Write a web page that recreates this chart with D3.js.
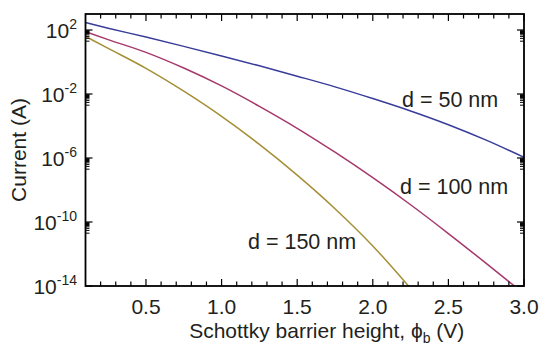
<!DOCTYPE html>
<html>
<head>
<meta charset="utf-8">
<script src="https://cdn.jsdelivr.net/npm/d3@7"></script>
<style>
  body { margin: 0; background: #fff; }
  text { font-family: "Liberation Sans", Arial, sans-serif; fill: #231f20; }
</style>
</head>
<body>
<div id="chart"></div>
<script>
// barrier height (V)
var phiB = [0.1, 0.25, 0.5, 0.75, 1.0, 1.25, 1.5, 1.75, 2.0, 2.25, 2.5, 2.75, 3.0];

// current (A), one list per thickness
var current50 = [2.9e2, 1.3e2, 3.6e1, 9.5e0, 2.4e0, 5.8e-1, 1.3e-1, 2.8e-2, 5.2e-3, 8.7e-4, 1.2e-4, 1.3e-5, 1.1e-6];
var current100 = [7.9e1, 2.5e1, 4.0e0, 4.2e-1, 3.2e-2, 1.7e-3, 7.2e-5, 2.3e-6, 5.9e-8, 1.2e-9, 1.9e-11, 2.6e-13, 3.3e-15];
var current150 = [4.0e1, 7.1e0, 4.0e-1, 1.5e-2, 4.0e-4, 7.1e-6, 8.5e-8, 6.8e-10, 3.2e-12, 7.1e-15, null, null, null];

var seriesNames = ["d = 50 nm", "d = 100 nm", "d = 150 nm"];
var seriesColors = ["#383d9a", "#a6386b", "#a48f35"];

var xMajor = [0.5, 1.0, 1.5, 2.0, 2.5, 3.0];
var xTickLabels = ["0.5", "1.0", "1.5", "2.0", "2.5", "3.0"];
var yMajorExp = [2, -2, -6, -10, -14];

var width = 541, height = 352;
var margin = {left: 85.5, right: 524, top: 14, bottom: 286};

var svg = d3.select("#chart")
  .append("svg")
  .attr("width", width)
  .attr("height", height);

var x = d3.scaleLinear()
  .domain([0.1, 3.0])
  .range([margin.left, margin.right]);

var y = d3.scaleLog()
  .domain([1e-14, 1e3])
  .range([margin.bottom, margin.top]);

svg.append("clipPath")
  .attr("id", "plotclip")
  .append("rect")
  .attr("x", margin.left)
  .attr("y", margin.top)
  .attr("width", margin.right - margin.left)
  .attr("height", margin.bottom - margin.top);

// curves
var allSeries = [current50, current100, current150];
var line = d3.line()
  .defined(function(d) { return d[1] != null; })
  .x(function(d) { return x(d[0]); })
  .y(function(d) { return y(d[1]); })
  .curve(d3.curveMonotoneX);

allSeries.forEach(function(vals, i) {
  var pts = phiB.map(function(p, j) { return [p, vals[j]]; });
  svg.append("path")
    .datum(pts)
    .attr("clip-path", "url(#plotclip)")
    .attr("fill", "none")
    .attr("stroke", seriesColors[i])
    .attr("stroke-width", 1.5)
    .attr("d", line);
});

// x ticks, inward on bottom and top
var xMinor = d3.range(2, 30).map(function(i) { return i / 10; })
  .filter(function(v) { return Math.round(v * 10) % 5 != 0; });

[[margin.bottom, -1], [margin.top, 1]].forEach(function(side) {
  var g = svg.append("g");
  g.selectAll("line.minor")
    .data(xMinor)
    .enter().append("line")
    .attr("x1", function(d) { return x(d); })
    .attr("x2", function(d) { return x(d); })
    .attr("y1", side[0])
    .attr("y2", side[0] + side[1] * 4.5)
    .attr("stroke", "#000").attr("stroke-width", 1.2);
  g.selectAll("line.major")
    .data(xMajor)
    .enter().append("line")
    .attr("x1", function(d) { return x(d); })
    .attr("x2", function(d) { return x(d); })
    .attr("y1", side[0])
    .attr("y2", side[0] + side[1] * 7)
    .attr("stroke", "#000").attr("stroke-width", 1.2);
});

// y ticks, inward on left and right, minor ticks in the decade below each major
var yMinor = [];
yMajorExp.forEach(function(e) {
  for (var k = 2; k <= 9; k++) yMinor.push(k * Math.pow(10, e - 1));
});
yMinor = yMinor.filter(function(v) { return v >= 1e-14; });

[[margin.left, 1], [margin.right, -1]].forEach(function(side) {
  var g = svg.append("g");
  g.selectAll("line.minor")
    .data(yMinor)
    .enter().append("line")
    .attr("x1", side[0])
    .attr("x2", side[0] + side[1] * 4)
    .attr("y1", function(d) { return y(d); })
    .attr("y2", function(d) { return y(d); })
    .attr("stroke", "#000").attr("stroke-width", 1);
  g.selectAll("line.major")
    .data(yMajorExp)
    .enter().append("line")
    .attr("x1", side[0])
    .attr("x2", side[0] + side[1] * 7)
    .attr("y1", function(d) { return y(Math.pow(10, d)); })
    .attr("y2", function(d) { return y(Math.pow(10, d)); })
    .attr("stroke", "#000").attr("stroke-width", 1.2);
});

// frame
svg.append("rect")
  .attr("x", margin.left)
  .attr("y", margin.top)
  .attr("width", margin.right - margin.left)
  .attr("height", margin.bottom - margin.top)
  .attr("fill", "none")
  .attr("stroke", "#000")
  .attr("stroke-width", 1.8);

// x tick labels
svg.selectAll("text.xlab")
  .data(xMajor)
  .enter().append("text")
  .attr("x", function(d) { return x(d); })
  .attr("y", 314)
  .attr("text-anchor", "middle")
  .style("font-size", "21px")
  .text(function(d, i) { return xTickLabels[i]; });

// y tick labels 10^n
var ylab = svg.selectAll("text.ylab")
  .data(yMajorExp)
  .enter().append("text")
  .attr("x", 77)
  .attr("y", function(d) { return y(Math.pow(10, d)) + 8; })
  .attr("text-anchor", "end")
  .style("font-size", "21px");
ylab.append("tspan").text("10");
ylab.append("tspan")
  .attr("dy", -9)
  .style("font-size", "14px")
  .text(function(d) { return d; });

// axis titles
svg.append("text")
  .attr("transform", "translate(26," + ((margin.top + margin.bottom) / 2) + ") rotate(-90)")
  .attr("text-anchor", "middle")
  .style("font-size", "21px")
  .text("Current (A)");

var xt = svg.append("text")
  .attr("x", (margin.left + margin.right) / 2 + 22)
  .attr("y", 338)
  .attr("text-anchor", "middle")
  .style("font-size", "21px");
xt.append("tspan").text("Schottky barrier height, ");
xt.append("tspan").text("\u03d5");
xt.append("tspan").attr("dy", 5).style("font-size", "14px").text("b");
xt.append("tspan").attr("dy", -5).text(" (V)");

// curve labels
var labelPos = [[402, 107], [400, 194], [248, 249]];
labelPos.forEach(function(p, i) {
  svg.append("text")
    .attr("x", p[0])
    .attr("y", p[1])
    .style("font-size", "21.5px")
    .text(seriesNames[i]);
});
</script>
</body>
</html>
